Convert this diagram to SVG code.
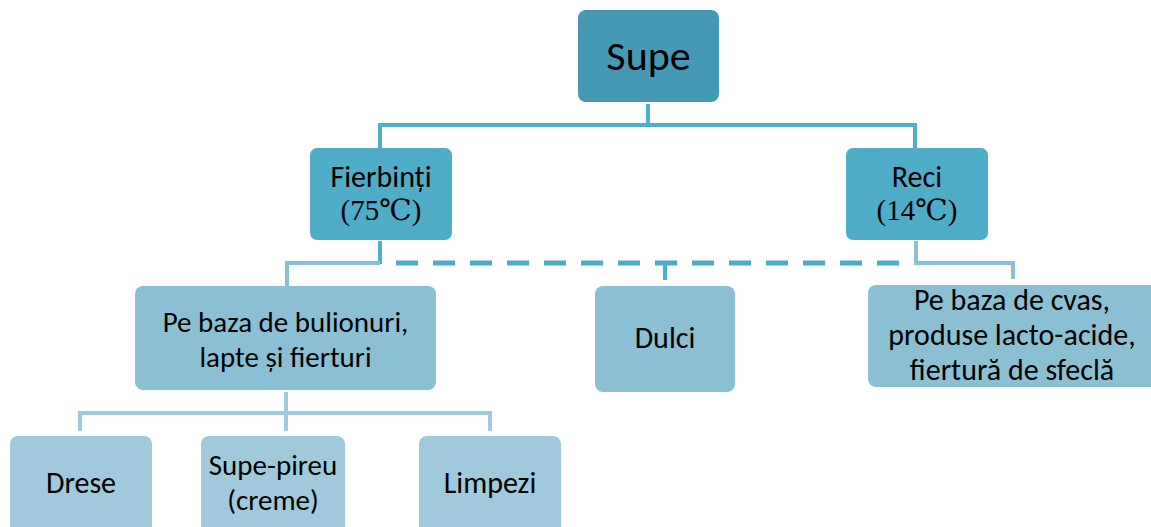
<svg xmlns="http://www.w3.org/2000/svg" width="1151" height="527" viewBox="0 0 1151 527">
<style>
text{font-family:"Carlito","Open Sans","Liberation Sans",sans-serif;fill:#000;text-anchor:middle;font-size:30px}
.serif{font-family:"Liberation Serif","DejaVu Serif",serif;font-size:29px}
.big{font-size:42px}
.s29{font-size:29px}
.l1{fill:#4699b4}
.l2{fill:#4fadc8}
.l3{fill:#8bc0d4}
.l4{fill:#a0cadb}
.c1{stroke:#4dafc8;stroke-width:4;fill:none}
.c2{stroke:#8bc0d4;stroke-width:4;fill:none}
.cd{stroke:#4aacc6;stroke-width:5;fill:none;stroke-dasharray:22,15}
.c4{stroke:#a0cadb;stroke-width:4;fill:none}
</style>
<g id="connectors">
<path class="c1" d="M648,104 V125 M380,148 V125 H915 V148"/>
<path class="c1" d="M380,241 V264"/>
<path class="c2" d="M380,263 H287 V286"/>
<path class="cd" d="M396,263 H900"/>
<path class="c1" d="M665,263 V280" stroke-width="5"/>
<path class="c2" d="M916,241 V263 H1013 V279"/>
<path class="c4" d="M286,392 V413 M80,431 V413 H490 V431 M286,413 V431"/>
</g>
<g id="supe"><rect class="l1" x="578" y="10" width="141" height="92" rx="8"/><text class="big" x="648.5" y="70">Supe</text></g>
<g id="fierbinti"><rect class="l2" x="310" y="148" width="142" height="92" rx="7"/><text x="381" y="187">Fierbinți</text><text class="serif" x="381" y="220">(75℃)</text></g>
<g id="reci"><rect class="l2" x="846" y="148" width="142" height="92" rx="7"/><text x="917" y="187">Reci</text><text class="serif" x="917" y="220">(14℃)</text></g>
<g id="bulionuri"><rect class="l3" x="135" y="286" width="301" height="104" rx="8"/><text class="s29" x="285.5" y="332">Pe baza de bulionuri,</text><text class="s29" x="285.5" y="367">lapte și fierturi</text></g>
<g id="dulci"><rect class="l3" x="595" y="286" width="140" height="106" rx="8"/><text x="665" y="348">Dulci</text></g>
<g id="cvas"><rect class="l3" x="868" y="285" width="295" height="102" rx="8"/><text x="1012" y="310">Pe baza de cvas,</text><text x="1012" y="345">produse lacto-acide,</text><text x="1012" y="380">fiertură de sfeclă</text></g>
<g id="drese"><rect class="l4" x="10" y="436" width="142" height="100" rx="8"/><text x="81" y="493">Drese</text></g>
<g id="pireu"><rect class="l4" x="201" y="436" width="144" height="100" rx="8"/><text class="s29" x="273" y="475">Supe-pireu</text><text class="s29" x="273" y="510">(creme)</text></g>
<g id="limpezi"><rect class="l4" x="419" y="436" width="142" height="100" rx="8"/><text x="490" y="493">Limpezi</text></g>
</svg>
